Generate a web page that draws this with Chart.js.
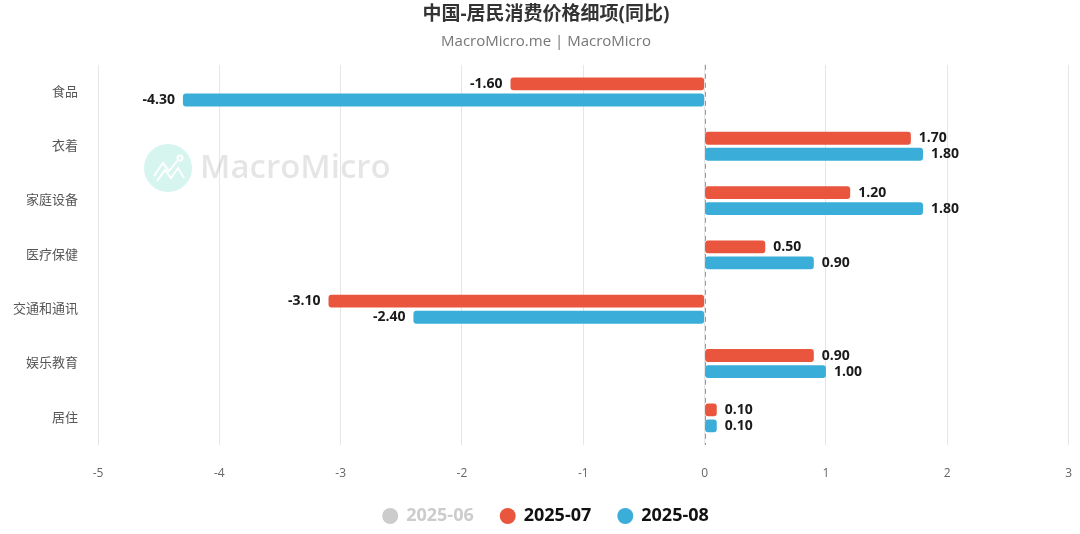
<!DOCTYPE html>
<html>
<head>
<meta charset="utf-8">
<script src="https://cdn.jsdelivr.net/npm/chart.js@4"></script>
<style>
html,body{margin:0;padding:0;background:#fff;}
#wrap{width:1080px;height:534px;position:relative;}
</style>
</head>
<body>
<div id="wrap"><canvas id="c"></canvas></div>
<script>
const categories = ['食品','衣着','家庭设备','医疗保健','交通和通讯','娱乐教育','居住'];
const seriesNames = ['2025-06','2025-07','2025-08'];
const jun = [null,null,null,null,null,null,null];
const jul = [-1.6, 1.7, 1.2, 0.5, -3.1, 0.9, 0.1];
const aug = [-4.3, 1.8, 1.8, 0.9, -2.4, 1.0, 0.1];
const xTicks = [-5,-4,-3,-2,-1,0,1,2,3];

const FONT = '"Open Sans","Noto Sans CJK SC",sans-serif';

const valueLabels = {
  id:'valueLabels',
  afterDatasetsDraw(chart){
    const ctx = chart.ctx;
    ctx.save();
    ctx.font = 'bold 14px ' + FONT;
    ctx.fillStyle = '#1a1a1a';
    ctx.textBaseline = 'middle';
    chart.data.datasets.forEach((ds,i)=>{
      const meta = chart.getDatasetMeta(i);
      if (meta.hidden || !chart.isDatasetVisible(i)) return;
      meta.data.forEach((el,j)=>{
        const v = ds.data[j];
        if (v === null || v === undefined) return;
        const t = v.toFixed(2);
        if (v >= 0){ ctx.textAlign='left'; ctx.fillText(t, el.x+8, el.y); }
        else { ctx.textAlign='right'; ctx.fillText(t, el.x-8, el.y); }
      });
    });
    ctx.restore();
  }
};

const zeroLine = {
  id:'zeroLine',
  beforeDatasetsDraw(chart){
    const ctx = chart.ctx, a = chart.chartArea;
    const x = chart.scales.x.getPixelForValue(0);
    ctx.save();
    ctx.strokeStyle = '#999';
    ctx.lineWidth = 1;
    ctx.setLineDash([5,4]);
    ctx.beginPath();
    ctx.moveTo(Math.round(x)+0.5, a.top);
    ctx.lineTo(Math.round(x)+0.5, a.bottom);
    ctx.stroke();
    ctx.restore();
  }
};

const watermark = {
  id:'watermark',
  beforeDatasetsDraw(chart){
    const ctx = chart.ctx;
    ctx.save();
    ctx.fillStyle = '#d6f5ee';
    ctx.beginPath();
    ctx.arc(168,168,24,0,Math.PI*2);
    ctx.fill();
    ctx.strokeStyle = '#ffffff';
    ctx.lineWidth = 2;
    ctx.beginPath();
    ctx.moveTo(154,176); ctx.lineTo(163,163); ctx.lineTo(169,171); ctx.lineTo(177,161);
    ctx.moveTo(157,181); ctx.lineTo(165,170); ctx.lineTo(171,178); ctx.lineTo(178,168); ctx.lineTo(184,178);
    ctx.stroke();
    ctx.beginPath(); ctx.arc(180,158,2.5,0,Math.PI*2); ctx.stroke();
    ctx.fillStyle = 'rgba(0,0,0,0.10)';
    ctx.font = '600 33px ' + FONT;
    ctx.textBaseline = 'middle';
    ctx.textAlign = 'left';
    ctx.fillText('MacroMicro', 200, 169);
    ctx.restore();
  }
};

new Chart(document.getElementById('c'), {
  type:'bar',
  data:{
    labels: categories,
    datasets:[
      {label:seriesNames[0], data:jun, backgroundColor:'#cccccc', hidden:true},
      {label:seriesNames[1], data:jul, backgroundColor:'#e9553d', borderRadius:3, borderSkipped:false},
      {label:seriesNames[2], data:aug, backgroundColor:'#3aaed8', borderRadius:3, borderSkipped:false}
    ]
  },
  options:{
    indexAxis:'y',
    responsive:true,
    maintainAspectRatio:false,
    animation:false,
    categoryPercentage:0.59,
    barPercentage:0.8,
    layout:{padding:{left:12,right:0,top:0,bottom:-1}},
    scales:{
      x:{
        min:-5, max:3,
        afterBuildTicks(s){ s.ticks = xTicks.map(v=>({value:v})); },
        afterFit(s){ s.height = 35; },
        grid:{color:'#e6e6e6', drawTicks:true, tickLength:13, tickColor:'rgba(0,0,0,0)'},
        border:{display:false},
        ticks:{color:'#666', font:{size:12, family:FONT}, padding:8}
      },
      y:{
        afterFit(s){ s.width = 86; },
        grid:{display:false},
        border:{display:false},
        ticks:{color:'#555', font:{size:13, family:FONT}, padding:12}
      }
    },
    plugins:{
      title:{display:true, text:'中国-居民消费价格细项(同比)', color:'#333', font:{size:19, weight:'bold', family:FONT}, padding:{top:3,bottom:7}},
      subtitle:{display:true, text:'MacroMicro.me | MacroMicro', color:'#777', font:{size:15, family:FONT}, padding:{bottom:14}},
      legend:{
        position:'bottom',
        labels:{
          usePointStyle:true, pointStyle:'circle', boxWidth:14, boxHeight:11.3, padding:27,
          font:{size:18, weight:'bold', family:FONT},
          generateLabels(chart){
            return chart.data.datasets.map((ds,i)=>({
              text: ds.label,
              fillStyle: ds.backgroundColor,
              strokeStyle: ds.backgroundColor,
              lineWidth:0,
              hidden:false,
              pointStyle:'circle',
              fontColor: i===0 ? '#cccccc' : '#111111',
              datasetIndex:i
            }));
          }
        }
      },
      tooltip:{enabled:false}
    }
  },
  plugins:[zeroLine, watermark, valueLabels]
});
</script>
</body>
</html>
